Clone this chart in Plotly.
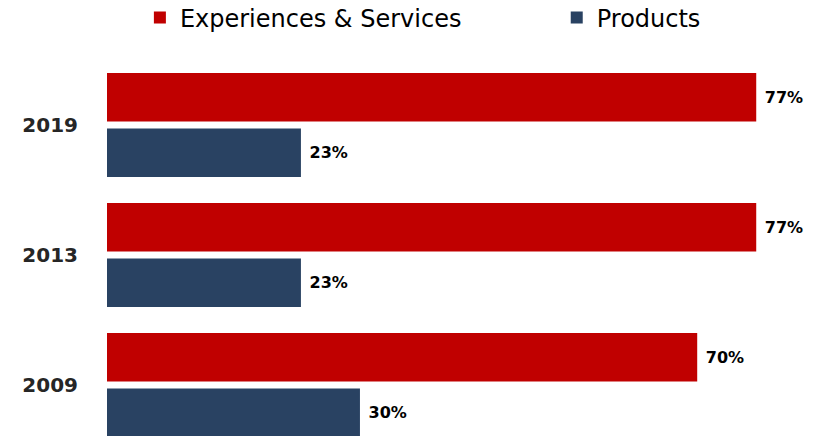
import plotly.graph_objects as go

years = ["2009", "2013", "2019"]
experiences = [70, 77, 77]
products = [30, 23, 23]
red = "#C00000"
blue = "#294262"

label_font = dict(family="DejaVu Sans", size=16, color="#000000", weight="bold")

fig = go.Figure()
fig.add_trace(go.Bar(
    y=years, x=products, orientation="h", name="Products",
    marker=dict(color=blue, line=dict(width=0)),
    text=[f"\u00a0{v}%" for v in products], textposition="outside",
    textfont=label_font, legend="legend2", cliponaxis=False,
))
fig.add_trace(go.Bar(
    y=years, x=experiences, orientation="h", name="Experiences & Services",
    marker=dict(color=red, line=dict(width=0)),
    text=[f"\u00a0{v}%" for v in experiences], textposition="outside",
    textfont=label_font, legend="legend", cliponaxis=False,
))

legend_font = dict(family="DejaVu Sans", size=24, color="#000000")
fig.update_layout(
    width=822, height=436,
    margin=dict(l=107, r=0, t=60, b=0, autoexpand=False),
    paper_bgcolor="white", plot_bgcolor="white",
    barmode="group", bargap=0.146, bargroupgap=0.126,
    showlegend=True,
    legend=dict(orientation="h", x=0.046, xanchor="left", yref="container", y=0.959,
                yanchor="middle", font=legend_font, itemwidth=30),
    legend2=dict(orientation="h", x=0.629, xanchor="left", yref="container", y=0.959,
                 yanchor="middle", font=legend_font, itemwidth=30),
)
fig.update_xaxes(range=[0, 84.8], showgrid=False, zeroline=False, showticklabels=False,
                 showline=False, ticks="")
fig.update_yaxes(type="category", categoryorder="array", categoryarray=years,
                 range=[-0.392, 2.5], showgrid=False, zeroline=False, showline=False,
                 ticks="", ticklabelstandoff=28,
                 tickfont=dict(family="DejaVu Sans", size=20, color="#262626", weight="bold"))

fig.write_html("out.html")
